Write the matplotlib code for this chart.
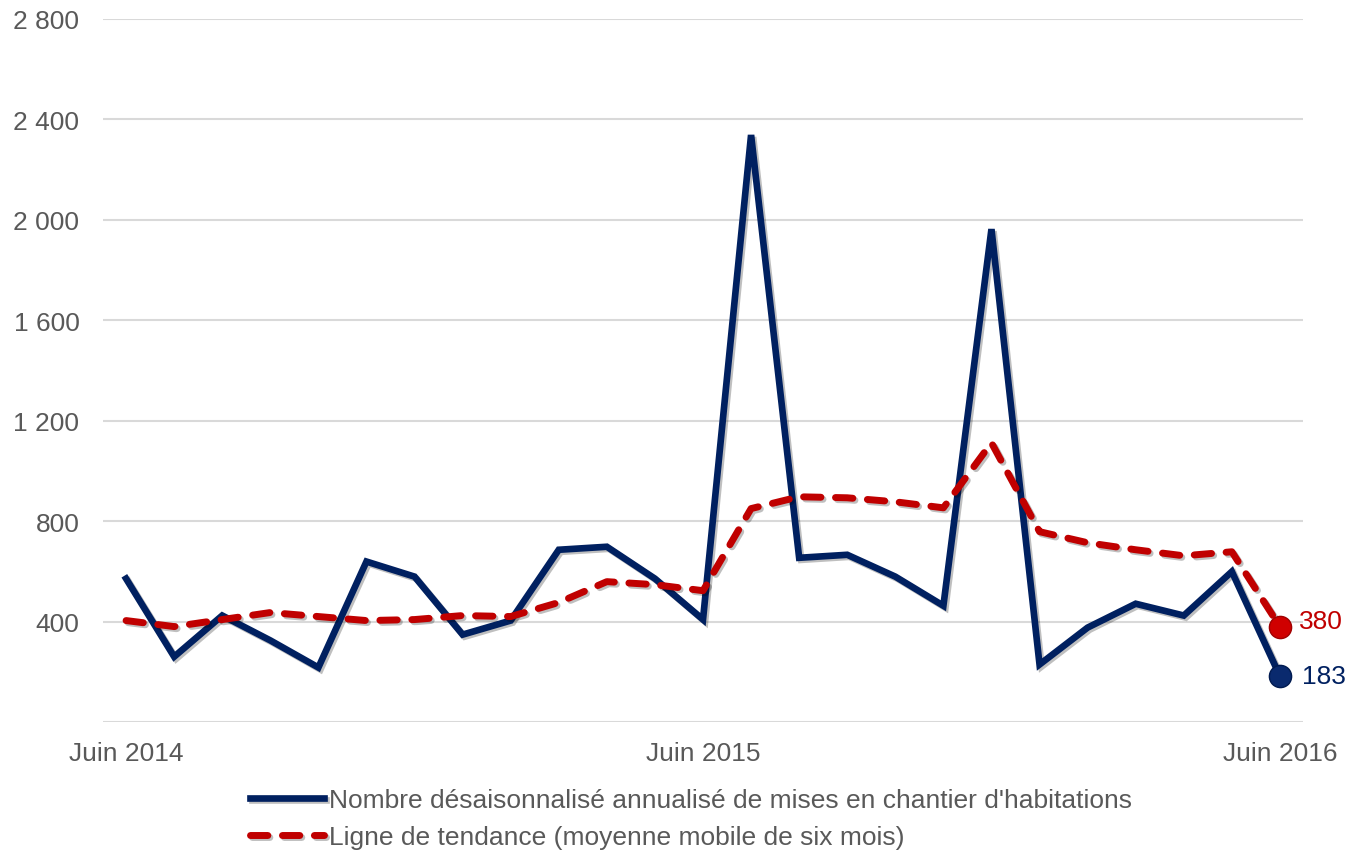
import numpy as np
import matplotlib
matplotlib.use('Agg')
import matplotlib.pyplot as plt
import matplotlib.patheffects as pe

plt.rcParams['font.family'] = ['Liberation Sans', 'DejaVu Sans']

# monthly data, Juin 2014 .. Juin 2016
mises_en_chantier = [571, 260, 424, 325, 217, 639, 579, 348, 404, 686, 698, 571, 408,
                     2338, 654, 666, 579, 463, 1963, 229, 376, 471, 424, 599, 183]
tendance = [404, 380, 408, 436, 420, 404, 408, 424, 420, 476, 559, 547, 523,
            850, 897, 893, 877, 853, 1112, 758, 714, 686, 662, 678, 380]
xtick_pos = [0, 12, 24]
xtick_labels = ['Juin 2014', 'Juin 2015', 'Juin 2016']
ytick_vals = [400, 800, 1200, 1600, 2000, 2400, 2800]

blue = '#002060'
red = '#C00000'
grey = '#595959'
fs = 19

fig = plt.figure(figsize=(13.59, 8.53), dpi=100)
ax = fig.add_axes([103 / 1359, 130 / 853, 1200 / 1359, 703 / 853])

x = np.arange(len(mises_en_chantier))
shadow = [pe.SimpleLineShadow(offset=(1.5, -1.5), alpha=0.25), pe.Normal()]

ax.plot(x, mises_en_chantier, color=blue, lw=4.8, solid_joinstyle='miter',
        label="Nombre désaisonnalisé annualisé de mises en chantier d'habitations",
        path_effects=shadow, zorder=3)
ax.plot(x, tendance, color=red, lw=5, ls=(0, (2.5, 2.1)), dash_capstyle='round',
        label='Ligne de tendance (moyenne mobile de six mois)',
        path_effects=shadow, zorder=3)

# end points
ax.plot(x[-1], tendance[-1], 'o', ms=16, color='#D00000', mec='#A00000', zorder=4)
ax.plot(x[-1], mises_en_chantier[-1], 'o', ms=16, color='#0A2A6E', mec='#001A50', zorder=4)
ax.annotate(str(tendance[-1]), (x[-1], tendance[-1]), xytext=(14, 4),
            textcoords='offset points', color=red, fontsize=fs, va='center')
ax.annotate(str(mises_en_chantier[-1]), (x[-1], mises_en_chantier[-1]), xytext=(16, 0),
            textcoords='offset points', color=blue, fontsize=fs, va='center')

ax.set_xlim(-0.48, 24.48)
ax.set_ylim(0, 2800)
ax.set_yticks([0] + ytick_vals)
ax.set_yticklabels([''] + ['{:,}'.format(v).replace(',', ' ') for v in ytick_vals])
ax.set_xticks(xtick_pos)
ax.set_xticklabels(xtick_labels)
ax.tick_params(axis='both', length=0, labelsize=fs, labelcolor=grey)
ax.tick_params(axis='y', pad=17)
ax.tick_params(axis='x', pad=14)
ax.grid(axis='y', color='#D9D9D9', lw=1.5)
ax.set_axisbelow(True)
for s in ax.spines.values():
    s.set_visible(False)

leg = fig.legend(loc='upper left', bbox_to_anchor=(250 / 1359, 1 - 789 / 853),
                 frameon=False, fontsize=fs, handlelength=2.8, handletextpad=0.2,
                 labelspacing=0.5, borderaxespad=0, borderpad=0)
for t in leg.get_texts():
    t.set_color(grey)

fig.savefig('out.png', dpi=100)
